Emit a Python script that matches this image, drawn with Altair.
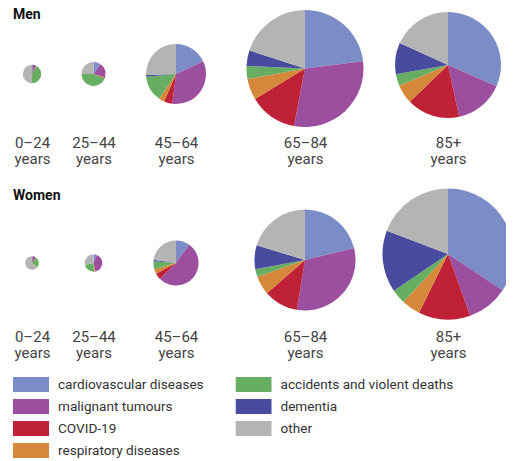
import altair as alt
import pandas as pd

# ---------------- data ----------------
ages = ["0–24", "25–44", "45–64", "65–84", "85+"]
age_unit = "years"
sexes = ["Men", "Women"]
causes = ["cardiovascular diseases", "malignant tumours", "COVID-19",
          "respiratory diseases", "accidents and violent deaths", "dementia", "other"]
cause_colors = ["#7b8cc7", "#9c4f9f", "#bf2136", "#d5873a", "#68ae62", "#494b9e", "#b3b4b3"]

# total deaths per age group (pie area)
men_total = [330, 560, 3510, 13350, 10950]
women_total = [180, 295, 1990, 9950, 16730]

# share of deaths (%) per cause, by age group
men_cardiovascular = [2, 10, 18, 23, 31.6]
men_malignant = [5, 19, 34, 30, 15]
men_covid = [0.5, 1.5, 4.5, 13.3, 16.2]
men_respiratory = [0.5, 0.5, 3, 5.8, 5.8]
men_accidents = [42, 44, 14, 3.6, 3.6]
men_dementia = [0, 0, 1, 4.3, 9.6]
men_other = [50, 25, 25.5, 20, 18.2]

women_cardiovascular = [1.5, 6, 10, 21.2, 34.3]
women_malignant = [8, 40, 52.5, 31.4, 10.2]
women_covid = [0.5, 1.5, 4.7, 11, 12.8]
women_respiratory = [0.5, 1.5, 3.3, 6, 4.6]
women_accidents = [25, 23, 5.8, 2.5, 3.6]
women_dementia = [0, 0, 1, 7.6, 15.3]
women_other = [64.5, 28, 22.7, 20.3, 19.2]

shares = {
    "Men": [men_cardiovascular, men_malignant, men_covid, men_respiratory,
            men_accidents, men_dementia, men_other],
    "Women": [women_cardiovascular, women_malignant, women_covid, women_respiratory,
              women_accidents, women_dementia, women_other],
}
totals = {"Men": men_total, "Women": women_total}

rows = []
for sex in sexes:
    for a, age in enumerate(ages):
        for c, cause in enumerate(causes):
            s = shares[sex][c][a]
            rows.append({"sex": sex, "age": age, "cause": cause, "idx": c,
                         "share": s, "total": totals[sex][a],
                         "deaths": totals[sex][a] * s / 100})
df = pd.DataFrame(rows)
max_total = max(max(men_total), max(women_total))

# ---------------- layout / style ----------------
FONT = "Roboto"
col_widths = [38, 85, 80, 178, 108]
cell_heights = {"Men": [94, 94, 94, 83, 76], "Women": [108, 108, 108, 102, 90]}
label_pad = {"Men": [14, 14, 14, 25, 32], "Women": [12.5, 12.5, 12.5, 18.5, 30.5]}
title_offset = {"Men": 5, "Women": 6.5}
row_gap = 182
max_radius = 65.5


def cell(sex, i):
    props = dict(width=col_widths[i], height=cell_heights[sex][i])
    if i == 0:
        props["title"] = alt.TitleParams(sex, anchor="start", frame="group", orient="top",
                                         fontSize=14, fontWeight="bold", font=FONT,
                                         color="#111111", offset=title_offset[sex])
    return alt.Chart(df).transform_filter(
        (alt.datum.sex == sex) & (alt.datum.age == ages[i])
    ).mark_arc().encode(
        x=alt.X("age:N", scale=alt.Scale(type="point"),
                axis=alt.Axis(title=None, domain=False, ticks=False, tickSize=0, grid=False,
                              labelAngle=0, labelPadding=label_pad[sex][i],
                              labelExpr=f"[datum.label, '{age_unit}']",
                              labelFont=FONT, labelFontSize=15, labelLineHeight=16,
                              labelColor="#444444")),
        theta=alt.Theta("deaths:Q", stack="normalize", scale=alt.Scale(domain=[0, 1])),
        radius=alt.Radius("total:Q", scale=alt.Scale(type="sqrt", zero=True,
                                                     domain=[0, max_total],
                                                     range=[0, max_radius])),
        color=alt.Color("cause:N", scale=alt.Scale(domain=causes, range=cause_colors),
                        legend=alt.Legend(title=None, orient="none", legendX=0, legendY=349.5,
                                          columns=2, columnPadding=31.5, rowPadding=6,
                                          symbolType="M-1,-0.42H1V0.42H-1Z", symbolSize=1296,
                                          symbolStrokeWidth=0, clipHeight=16,
                                          labelOffset=9, labelFont=FONT, labelFontSize=13.6,
                                          labelColor="#333333", labelLimit=300)),
        order=alt.Order("idx:Q", sort="ascending"),
    ).properties(**props)


def row(sex):
    return alt.hconcat(*[cell(sex, i) for i in range(len(ages))],
                       spacing=0, bounds="flush").resolve_scale(
        x="independent", color="shared").resolve_axis(x="independent")


chart = alt.vconcat(row("Men"), row("Women"), spacing=row_gap, bounds="flush").resolve_scale(
    x="independent", color="shared"
).properties(
    padding={"left": 5, "top": 0, "right": -8, "bottom": 0}
).configure(font=FONT).configure_view(stroke=None)

chart.save("out.html", embed_options={"renderer": "svg", "actions": False})
